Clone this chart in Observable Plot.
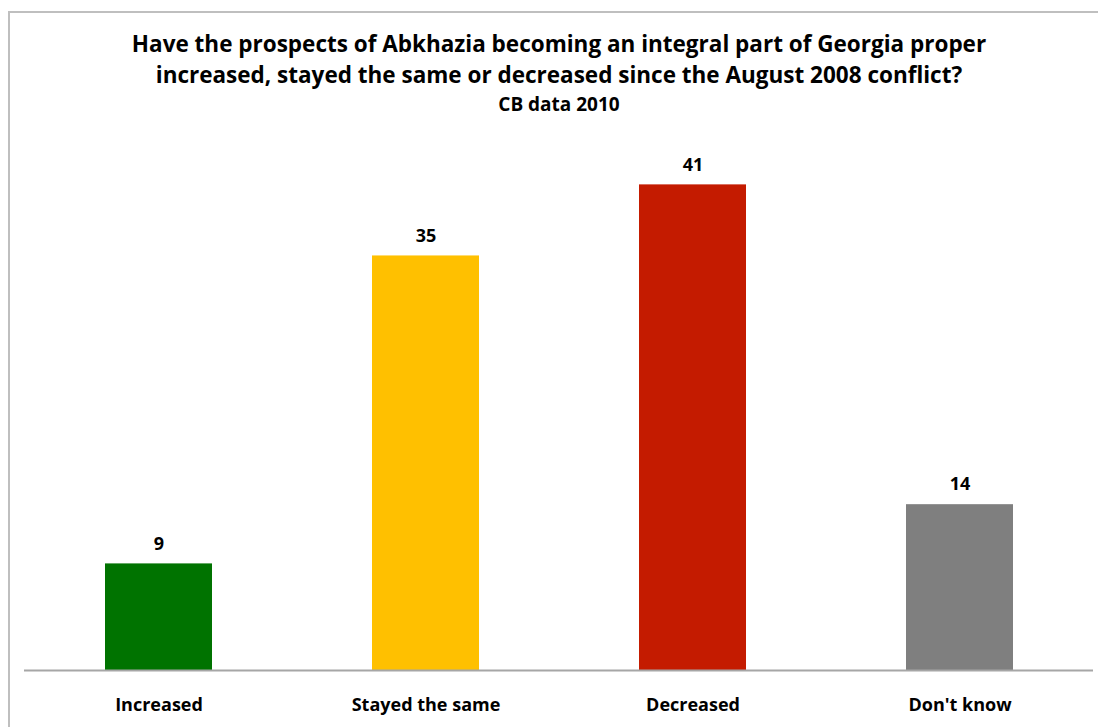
<!DOCTYPE html>
<html>
<head>
<meta charset="utf-8">
<script src="https://cdn.jsdelivr.net/npm/d3@7"></script>
<script src="https://cdn.jsdelivr.net/npm/@observablehq/plot@0.6"></script>
<style>
  html, body { margin: 0; padding: 0; background: #fff; }
  #wrap { position: relative; width: 1098px; height: 727px; overflow: hidden; font-family: "Open Sans", Lato, sans-serif; }
  #frame { position: absolute; left: 8px; top: 11px; width: 1200px; height: 800px; border-left: 2px solid #bfbfbf; border-top: 2px solid #bfbfbf; }
  .t { position: absolute; left: 0; width: 1118px; text-align: center; font-weight: bold; color: #000; white-space: nowrap; line-height: 1; }
  #t1 { top: 33px; font-size: 22.5px; }
  #t2 { top: 64px; font-size: 22.5px; }
  #t3 { top: 95px; font-size: 19px; }
  #chart { position: absolute; left: 0; top: 120px; }
</style>
</head>
<body>
<div id="wrap">
  <div id="frame"></div>
  <div class="t" id="t1">Have the prospects of Abkhazia becoming an integral part of Georgia proper</div>
  <div class="t" id="t2">increased, stayed the same or decreased since the August 2008 conflict?</div>
  <div class="t" id="t3">CB data 2010</div>
  <div id="chart"></div>
</div>
<script>
const categories = ["Increased", "Stayed the same", "Decreased", "Don't know"];
const values = [9, 35, 41, 14];
const colors = ["#007300", "#FFC000", "#C41B00", "#7F7F7F"];

const data = categories.map((c, i) => ({category: c, value: values[i], color: colors[i]}));

const plot = Plot.plot({
  width: 1098,
  height: 607,
  marginLeft: 24,
  marginRight: 5,
  marginTop: 17,
  marginBottom: 57,
  style: {fontFamily: "'Open Sans', Lato, sans-serif", background: "transparent"},
  x: {domain: categories, paddingInner: 0.6, paddingOuter: 0.3, label: null},
  y: {domain: [0, 45], axis: null},
  marks: [
    Plot.barY(data, {x: "category", y: "value", fill: "color"}),
    Plot.ruleY([0], {stroke: "#a6a6a6", strokeWidth: 2}),
    Plot.text(data, {x: "category", y: "value", text: d => String(d.value), dy: -20, fontSize: 18, fontWeight: "bold", fill: "#000"}),
    Plot.axisX({tickSize: 0, tickPadding: 28, fontSize: 18, fontWeight: "bold", color: "#000", label: null})
  ]
});
document.getElementById("chart").appendChild(plot);
</script>
</body>
</html>
